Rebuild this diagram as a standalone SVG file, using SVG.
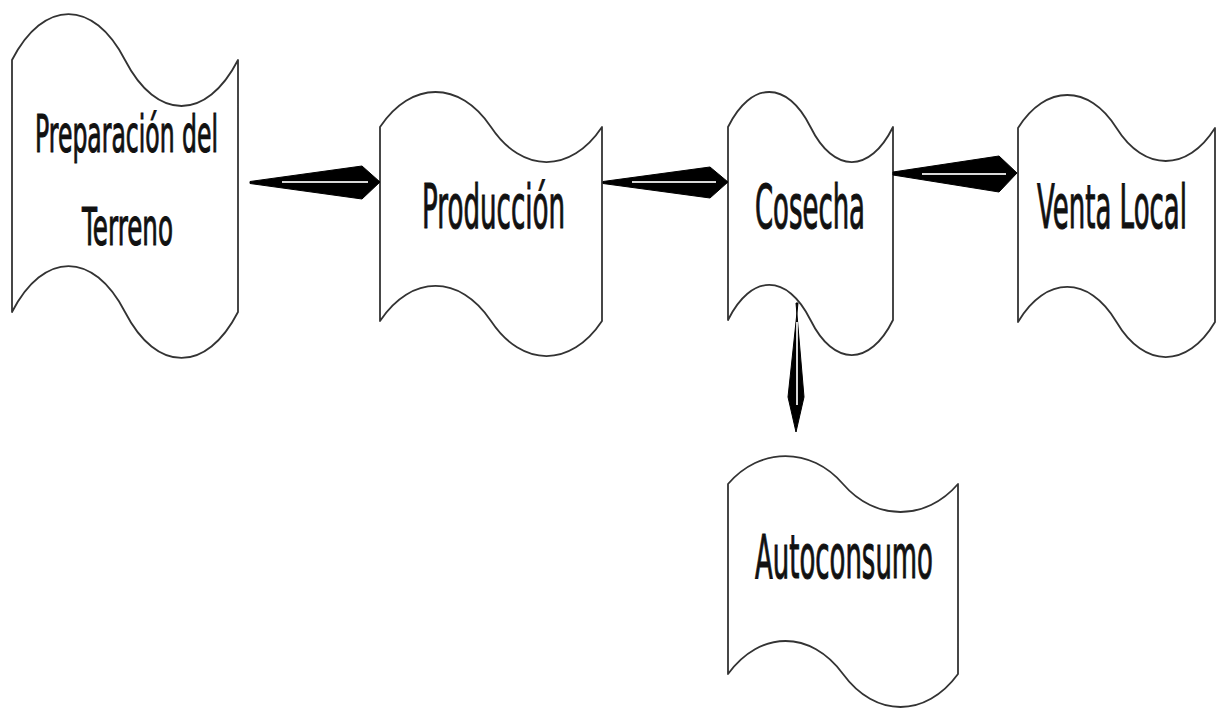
<svg xmlns="http://www.w3.org/2000/svg" width="1219" height="709" viewBox="0 0 1219 709">
<style>
.shape{fill:#ffffff;stroke:#333333;stroke-width:1.8;stroke-linejoin:round}
.lbl{font-family:"DejaVu Sans","Liberation Sans",sans-serif;fill:#111111;stroke:#111111;stroke-width:1.2}
.big{font-size:60px}
.mid{font-size:52px}
.head{fill:#000000;stroke:#000000;stroke-width:1;stroke-linejoin:round}
.shine{stroke:#d8d8d8;stroke-width:2;fill:none}
</style>
<rect width="1219" height="709" fill="#ffffff"/>
<g id="node-preparacion">
<path class="shape" d="M12,60 C43.6,-1.3 93.4,-1.3 125,60 S206.4,121.3 238,60 L238,312 C206.4,373.3 156.6,373.3 125,312 S43.6,250.7 12,312 Z"/>
<text class="lbl mid" transform="translate(35,152) scale(0.5,1)" textLength="366" lengthAdjust="spacingAndGlyphs">Preparación del</text>
<text class="lbl mid" transform="translate(82,245) scale(0.5,1)" textLength="182" lengthAdjust="spacingAndGlyphs">Terreno</text>
</g>
<g id="node-produccion">
<path class="shape" d="M380,127 C411.1,80.3 459.9,80.3 491,127 S570.9,173.7 602,127 L602,321 C570.9,367.7 522.1,367.7 491,321 S411.1,274.3 380,321 Z"/>
<text class="lbl big" transform="translate(422,228) scale(0.5,1)" textLength="286" lengthAdjust="spacingAndGlyphs">Producción</text>
</g>
<g id="node-cosecha">
<path class="shape" d="M728,127 C751.1,80.3 787.4,80.3 810.5,127 S869.9,173.7 893,127 L893,320 C869.9,366.7 833.6,366.7 810.5,320 S751.1,273.3 728,320 Z"/>
<text class="lbl big" transform="translate(755,228) scale(0.5,1)" textLength="220" lengthAdjust="spacingAndGlyphs">Cosecha</text>
</g>
<g id="node-venta">
<path class="shape" d="M1018,128 C1045.6,84 1088.9,84 1116.5,128 S1187.4,172 1215,128 L1215,322 C1187.4,368.7 1144.1,368.7 1116.5,322 S1045.6,275.3 1018,322 Z"/>
<text class="lbl big" transform="translate(1037,228) scale(0.5,1)" textLength="300" lengthAdjust="spacingAndGlyphs">Venta Local</text>
</g>
<g id="node-autoconsumo">
<path class="shape" d="M728,484 C760.2,446.7 810.8,446.7 843,484 S925.8,521.3 958,484 L958,674 C925.8,718 875.2,718 843,674 S760.2,630 728,674 Z"/>
<text class="lbl big" transform="translate(755,578) scale(0.5,1)" textLength="356" lengthAdjust="spacingAndGlyphs">Autoconsumo</text>
</g>
<g id="connectors">
<polygon class="head" points="250,181.5 362,166 380,182 362,199 250,183.5"/>
<line class="shine" x1="282" y1="182" x2="368" y2="182"/>
<polygon class="head" points="603,181.5 710,167 728,182 710,198 603,183.5"/>
<line class="shine" x1="632" y1="182" x2="716" y2="182"/>
<polygon class="head" points="893,172 999,156 1017,173 999,192 893,175"/>
<line class="shine" x1="922" y1="174" x2="1006" y2="174"/>
<polygon class="head" points="796,303 804,397 796,432 788,397 798,303"/>
<line class="shine" x1="797" y1="322" x2="797" y2="405"/>
</g>
</svg>
